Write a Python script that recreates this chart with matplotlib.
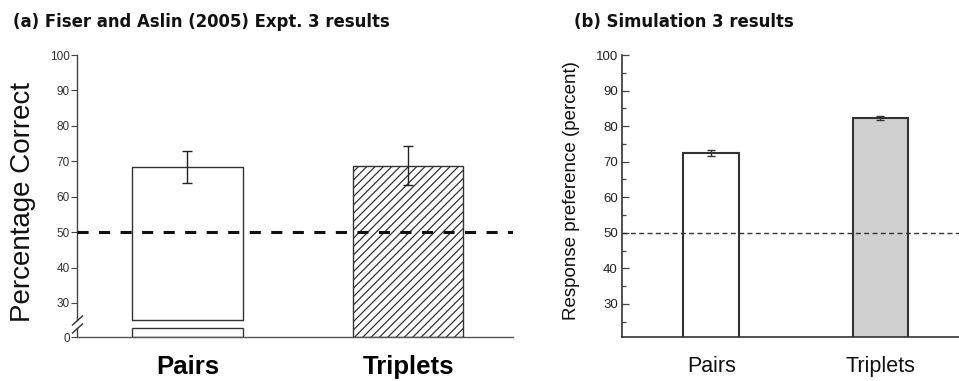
import numpy as np
import matplotlib
matplotlib.use("Agg")
import matplotlib.pyplot as plt

# ---------------- data ----------------
categories = ["Pairs", "Triplets"]
# (a) Fiser and Aslin (2005) Expt. 3
exp_means = [68.4, 68.8]
exp_errs = [4.4, 5.4]
# (b) Simulation 3
sim_means = [72.5, 82.3]
sim_errs = [0.8, 0.6]
chance = 50
ticks_a = [0, 30, 40, 50, 60, 70, 80, 90, 100]
ticks_b = [30, 40, 50, 60, 70, 80, 90, 100]
minor_b = [25, 35, 45, 55, 65, 75, 85, 95]

# broken-axis layout for panel (a): lower stub 0..lo, upper part hi..100
BRK_LO, BRK_HI = 2.5, 25.2
_xp = [0, BRK_LO, BRK_HI, 100]
_fp = [0, BRK_LO, BRK_LO + 2.3, 100 - BRK_HI + BRK_LO + 2.3]

def fwd(v):
    return np.interp(v, _xp, _fp)

def inv(f):
    return np.interp(f, _fp, _xp)

plt.rcParams['lines.scale_dashes'] = False
W, H = 959, 381
fig = plt.figure(figsize=(W / 100, H / 100), dpi=100)

def box(l, t, r, b):
    return [l / W, 1 - b / H, (r - l) / W, (b - t) / H]

sans = ["Liberation Sans", "DejaVu Sans"]

# ---------------- panel (a) ----------------
axa = fig.add_axes(box(77, 55, 513, 337))
axa.set_yscale('function', functions=(fwd, inv))
axa.set_ylim(0, 100)
axa.set_xlim(-0.5, 1.475)
x = np.arange(len(categories))
bw = 0.5
edge_a = "#333333"
# Pairs: drawn in two parts around the axis break
axa.bar(x[0], BRK_LO, width=bw, bottom=0, color="white", edgecolor=edge_a, linewidth=1.0)
axa.bar(x[0], exp_means[0] - BRK_HI, width=bw, bottom=BRK_HI, color="white",
        edgecolor=edge_a, linewidth=1.0)
# Triplets: hatched
plt.rcParams['hatch.linewidth'] = 0.9
plt.rcParams['hatch.color'] = "#222222"
axa.bar(x[1], exp_means[1], width=bw, color="white", edgecolor=edge_a,
        linewidth=1.0, hatch="////")
axa.errorbar(x, exp_means, yerr=exp_errs, fmt="none", ecolor="#222222",
             elinewidth=1.0, capsize=3.6, capthick=1.0, zorder=4)
axa.axhline(chance, color="#111111", lw=2.2, ls=(0, (8.0, 7.5)), zorder=5)

for s in ["top", "right", "left"]:
    axa.spines[s].set_visible(False)
axa.spines["bottom"].set_color("#555555")
axa.spines["bottom"].set_linewidth(1.0)
# broken left spine
sp_kw = dict(color="#444444", lw=1.0, clip_on=False, transform=axa.get_yaxis_transform())
axa.plot([0, 0], [BRK_HI, 100], **sp_kw)
axa.plot([0, 0], [0, BRK_LO], **sp_kw)
d = 0.9
axa.plot([0, 0], [BRK_HI, BRK_LO], linestyle="none", marker=[(-1, -d), (1, d)],
         markersize=8, mec="#333333", mew=1.0, clip_on=False,
         transform=axa.get_yaxis_transform())

axa.set_yticks(ticks_a)
axa.set_yticklabels([str(t) for t in ticks_a])
axa.yaxis.set_minor_locator(matplotlib.ticker.NullLocator())
axa.tick_params(axis="y", direction="out", length=4, width=0.8, color="#444444",
                pad=1, labelsize=8.5, labelcolor="#333333")
for lab in axa.get_yticklabels():
    lab.set_family(sans)
axa.set_xticks(x)
axa.set_xticklabels(categories, fontsize=18.5, fontweight="bold", family=sans)
axa.tick_params(axis="x", length=0, pad=13)

fig.text(23 / W, 1 - 202 / H, "Percentage Correct", rotation=90, ha="center",
         va="center", fontsize=20, family=sans, color="#111111")
fig.text(13 / W, 1 - 22 / H, "(a) Fiser and Aslin (2005) Expt. 3 results",
         ha="left", va="center", fontsize=11.9, fontweight="bold", color="#111111")

# ---------------- panel (b) ----------------
axb = fig.add_axes(box(622, 55, 960, 337))
axb.set_ylim(20.7, 100)
axb.set_xlim(-0.527, 1.47)
bwb = 0.33
edge_b = "#333333"
axb.bar(x, sim_means, width=bwb, color=["white", "#d0d0d0"], edgecolor=edge_b,
        linewidth=1.5, zorder=2)
axb.errorbar(x, sim_means, yerr=sim_errs, fmt="none", ecolor="#333333",
             elinewidth=1.0, capsize=2.6, capthick=1.0, zorder=4)
axb.axhline(chance, color="#333333", lw=1.0, ls=(0, (3.6, 2.4)), zorder=5)
for s in ["top", "right"]:
    axb.spines[s].set_visible(False)
for s in ["left", "bottom"]:
    axb.spines[s].set_color("#333333")
    axb.spines[s].set_linewidth(1.2)
axb.set_yticks(ticks_b)
axb.set_yticks(minor_b, minor=True)
axb.tick_params(axis="y", which="major", direction="in", length=5, width=0.9,
                color="#444444", pad=3, labelsize=9.5, labelcolor="#222222")
axb.tick_params(axis="y", which="minor", direction="in", length=3, width=0.9,
                color="#444444")
for lab in axb.get_yticklabels():
    lab.set_family(sans)
axb.set_xticks(x)
axb.set_xticklabels(categories, fontsize=15.5, family=sans, color="#111111")
axb.tick_params(axis="x", length=0, pad=14)

fig.text(572 / W, 1 - 191 / H, "Response preference (percent)", rotation=90,
         ha="center", va="center", fontsize=13.5, family=sans, color="#111111")
fig.text(574 / W, 1 - 22 / H, "(b) Simulation 3 results", ha="left", va="center",
         fontsize=11.9, fontweight="bold", color="#111111")

fig.savefig("out.png", dpi=100)
